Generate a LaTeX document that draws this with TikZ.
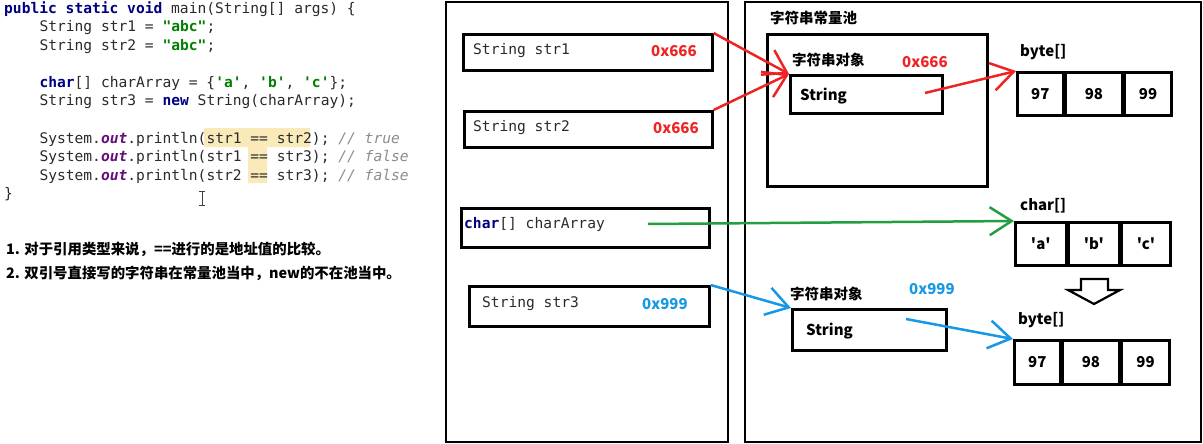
\documentclass[tikz,border=0pt]{standalone}
\usepackage{fontspec}
\newfontfamily\kodfont{DejaVu Sans Mono}
\newfontfamily\zhfont{Noto Sans CJK SC}
\usetikzlibrary{arrows.meta,positioning}
\definecolor{kodtext}{HTML}{2A2A2A}
\definecolor{kwnavy}{HTML}{000080}
\definecolor{strgreen}{HTML}{008000}
\definecolor{fldpurple}{HTML}{660E7A}
\definecolor{cmtgray}{HTML}{8C8C8C}
\definecolor{kiemel}{RGB}{250,234,185}
\definecolor{piros}{RGB}{238,36,36}
\definecolor{zold}{RGB}{36,158,66}
\definecolor{kek}{RGB}{22,152,228}
\newcommand{\kwd}[1]{{\bfseries\color{kwnavy}#1}}
\newcommand{\strl}[1]{{\bfseries\color{strgreen}#1}}
\newcommand{\fldo}[1]{{\bfseries\itshape\color{fldpurple}#1}}
\newcommand{\cmnt}[1]{{\itshape\color{cmtgray}#1}}
\tikzset{
  kodsor/.style={anchor=base west,inner sep=0pt,text=kodtext,
                 font=\kodfont\fontsize{14.6}{17}\selectfont\frenchspacing},
  megj/.style={anchor=base west,inner sep=0pt,font=\zhfont\bfseries\fontsize{14.4}{17}\selectfont},
  terulet/.style={draw,line width=2pt,anchor=north west,inner sep=0pt},
  doboz/.style={draw,line width=2.6pt,anchor=north west,inner sep=0pt},
  cella/.style={draw,line width=2.6pt,anchor=north west,inner sep=0pt,
                font=\zhfont\bfseries\fontsize{15}{17}\selectfont},
  valtozo/.style={anchor=west,inner sep=0pt,text=kodtext,
                  font=\kodfont\fontsize{14.6}{17}\selectfont\frenchspacing},
  cimke/.style={anchor=west,inner sep=0pt,font=\zhfont\bfseries\fontsize{14.5}{17}\selectfont},
  cim/.style={anchor=west,inner sep=0pt,font=\zhfont\bfseries\fontsize{15}{17}\selectfont},
  nyil/.style={line width=2.5pt,-{Straight Barb[length=22pt,width=28pt]}},
}
\begin{document}
\begin{tikzpicture}[x=1pt,y=-1pt]
  \useasboundingbox (0,0) rectangle (1203,444);

  % kod
  \fill[kiemel] (204,128) rectangle (310,147) (248,147) rectangle (267,183);
  \node[kodsor] (k1) at (4,13.5) {\kwd{public static void} main(String[] args) \{};
  \node[kodsor] (k2) at (39.3,32) {String str1 = \strl{"abc"};};
  \node[kodsor] (k3) at (39.3,50.5) {String str2 = \strl{"abc"};};
  \node[kodsor] (k5) at (39.3,87.5) {\kwd{char}[] charArray = \{\strl{'a'}, \strl{'b'}, \strl{'c'}\};};
  \node[kodsor] (k6) at (39.3,106) {String str3 = \kwd{new} String(charArray);};
  \node[kodsor] (k8) at (39.3,143) {System.\fldo{out}.println(str1 == str2); \cmnt{// true}};
  \node[kodsor] (k9) at (39.3,161.5) {System.\fldo{out}.println(str1 == str3); \cmnt{// false}};
  \node[kodsor] (k10) at (39.3,180) {System.\fldo{out}.println(str2 == str3); \cmnt{// false}};
  \node[kodsor] (k11) at (4,198.5) {\}};
  \draw[line width=0.9pt,black!75] (202,191) -- (202,205) (199,191) -- (205,191) (199,205) -- (205,205);

  % megjegyzesek
  \node[megj] (m1) at (6,254) {1. 对于引用类型来说，==进行的是地址值的比较。};
  \node[megj] (m2) at (6,278) {2. 双引号直接写的字符串在常量池当中，new的不在池当中。};

  % verem
  \node[terulet,minimum width=282pt,minimum height=440pt] (verem) at (445,1) {};
  \node[doboz,minimum width=249pt,minimum height=36pt] (str1) at (462,33) {};
  \node[valtozo] (str1n) at (473,51) {String str1};
  \node[cim,text=piros] (str1c) at (651,51) {0x666};
  \node[doboz,minimum width=248pt,minimum height=36pt] (str2) at (463,110) {};
  \node[valtozo] (str2n) at (473,128) {String str2};
  \node[cim,text=piros] (str2c) at (653,128) {0x666};
  \node[doboz,minimum width=248pt,minimum height=39pt] (chr) at (460,207) {};
  \node[valtozo] (chrn) at (464,224) {\kwd{char}[] charArray};
  \node[doboz,minimum width=240pt,minimum height=40pt] (str3) at (468,285) {};
  \node[valtozo] (str3n) at (482,304) {String str3};
  \node[cim,text=kek] (str3c) at (642,304) {0x999};

  % kupac
  \node[terulet,minimum width=456pt,minimum height=440pt] (kupac) at (744,1) {};
  \node[cimke] (pooln) at (770,18) {字符串常量池};
  \node[doboz,minimum width=220pt,minimum height=152pt] (pool) at (766,33) {};
  \node[cimke] (obj1n) at (792,60) {字符串对象};
  \node[cim,text=piros] (obj1c) at (902,62) {0x666};
  \node[doboz,minimum width=152pt,minimum height=38pt] (obj1) at (789,74) {};
  \node[cim] (obj1s) at (800,96) {String};

  \node[cim] (b1n) at (1020,52) {byte[]};
  \node[cella,minimum width=46pt,minimum height=43pt] (b1a) at (1016,71) {97};
  \node[cella,minimum width=56pt,minimum height=43pt,right=0pt of b1a] (b1b) {98};
  \node[cella,minimum width=47pt,minimum height=43pt,right=0pt of b1b] (b1c) {99};

  \node[cim] (c1n) at (1020,206) {char[]};
  \node[cella,minimum width=51pt,minimum height=43pt] (c1a) at (1014,221) {'a'};
  \node[cella,minimum width=50pt,minimum height=43pt,right=0pt of c1a] (c1b) {'b'};
  \node[cella,minimum width=49pt,minimum height=43pt,right=0pt of c1b] (c1c) {'c'};

  \draw[line width=2.2pt,line join=miter] (1081,279) -- (1108,279) -- (1108,290) -- (1120,290)
    -- (1094,304) -- (1068,290) -- (1081,290) -- cycle;

  \node[cimke] (obj2n) at (790,294) {字符串对象};
  \node[cim,text=kek] (obj2c) at (909,289) {0x999};
  \node[doboz,minimum width=154pt,minimum height=41pt] (obj2) at (791,308) {};
  \node[cim] (obj2s) at (806,331) {String};

  \node[cim] (b2n) at (1018,320) {byte[]};
  \node[cella,minimum width=46pt,minimum height=44pt] (b2a) at (1013,339) {97};
  \node[cella,minimum width=56pt,minimum height=44pt,right=0pt of b2a] (b2b) {98};
  \node[cella,minimum width=48pt,minimum height=44pt,right=0pt of b2b] (b2c) {99};

  % nyilak
  \coordinate (obj1ki) at (925,93);
  \coordinate (chrki) at (648,224);
  \coordinate (obj2ki) at (906,319);
  \draw[nyil,piros] (str1.north east) -- (obj1.north west);
  \draw[nyil,piros] (str2.north east) -- (obj1.north west);
  \draw[nyil,piros] (obj1ki) -- (b1a.north west);
  \draw[nyil,zold] (chrki) -- (c1a.north west);
  \draw[nyil,kek] (str3.north east) -- (obj2.north west);
  \draw[nyil,kek] (obj2ki) -- (b2a.north west);
\end{tikzpicture}
\end{document}
